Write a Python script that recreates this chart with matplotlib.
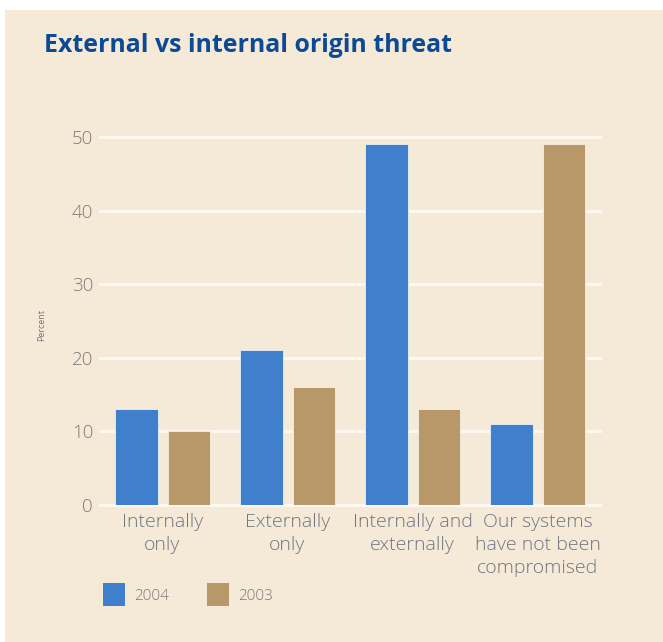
import numpy as np
import matplotlib.pyplot as plt
from matplotlib.patches import Rectangle

categories = ["Internally\nonly", "Externally\nonly", "Internally and\nexternally",
              "Our systems\nhave not been\ncompromised"]
values_2004 = [13, 21, 49, 11]
values_2003 = [10, 16, 13, 49]

bg = "#f5ead8"
blue = "#3f7fcb"
tan = "#b89769"
grey = "#7a7a7a"
label_col = "#6e7480"

plt.rcParams['font.family'] = ['Open Sans', 'DejaVu Sans']

fig = plt.figure(figsize=(6.63, 6.42), dpi=100, facecolor="white")
fig.patches.append(Rectangle((5 / 663, 0), 1, 1 - 10 / 642, transform=fig.transFigure,
                             facecolor=bg, edgecolor="none", zorder=-10))

ax = fig.add_axes([100 / 663, 1 - 505 / 642, 500 / 663, 368 / 642])
ax.set_zorder(2)
ax.patch.set_alpha(0)

x = np.arange(len(categories))
w = 0.34
off = 0.21
ax.bar(x - off, values_2004, w, color=blue, edgecolor="#e8f0f8", linewidth=0.6, zorder=3)
ax.bar(x + off, values_2003, w, color=tan, edgecolor="#f5efe4", linewidth=0.6, zorder=3)

ax.set_xlim(-0.5, 3.5)
ax.set_ylim(0, 50)
ax.set_yticks([0, 10, 20, 30, 40, 50])
for yv in [0, 10, 20, 30, 40, 50]:
    ax.axhline(yv, color="#fdf9f2", linewidth=2, zorder=1, clip_on=False)

for s in ax.spines.values():
    s.set_visible(False)
ax.tick_params(axis="y", length=0, pad=5, labelsize=13.5, labelcolor=grey)
ax.tick_params(axis="x", length=0, pad=6, labelsize=14, labelcolor=label_col)
ax.set_xticks(x)
ax.set_xticklabels(categories, linespacing=1.35)
for t in ax.get_yticklabels() + ax.get_xticklabels():
    t.set_fontweight("light")

fig.text(42 / 663, 1 - 325 / 642, "Percent", rotation=90, fontsize=6.5, color=label_col,
         ha="center", va="center")

fig.text(44 / 663, 1 - 46 / 642, "External vs internal origin threat", fontsize=17.9,
         fontweight="bold", color="#0d4a96", ha="left", va="center")

# legend
for xs, col, lab in [(103, blue, "2004"), (207, tan, "2003")]:
    fig.patches.append(Rectangle((xs / 663, 1 - 606 / 642), 22 / 663, 23 / 642,
                                 transform=fig.transFigure, facecolor=col, edgecolor="none"))
    fig.text((xs + 31) / 663, 1 - 597 / 642, lab, fontsize=11, fontweight="light",
             color=grey, ha="left", va="center")

fig.savefig("out.png", dpi=100, facecolor="white")
